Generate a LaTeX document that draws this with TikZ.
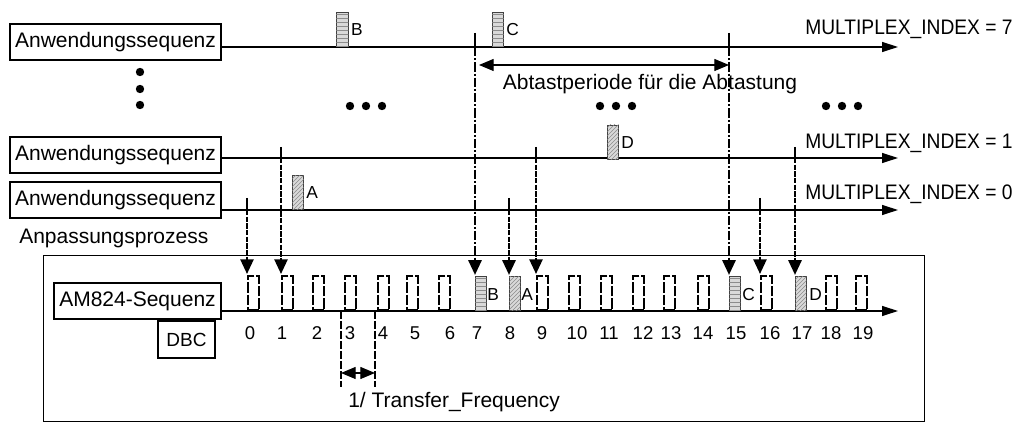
\documentclass[tikz,border=0pt]{standalone}
\usepackage{fontspec}
\setmainfont{Liberation Sans}
\newfontfamily\mpfont[FakeStretch=0.915]{Liberation Sans}
\usetikzlibrary{arrows.meta,patterns}
\begin{document}
\begin{tikzpicture}[x=0.75pt,y=-0.75pt,
  lbl/.style={inner sep=0pt, font=\fontsize{15.75}{18}\selectfont},
  mplbl/.style={inner sep=0pt, anchor=west, font=\mpfont\fontsize{15.75}{18}\selectfont},
  letter/.style={inner sep=0pt, anchor=west, font=\fontsize{13}{15}\selectfont},
  num/.style={inner sep=0pt, font=\fontsize{13.9}{16}\selectfont},
  seqbox/.style={draw, line width=0.9pt, inner sep=0pt, minimum width=158.25pt, minimum height=27pt, font=\fontsize{15.75}{18}\selectfont},
  axisline/.style={line width=0.9pt, -{Triangle[length=12pt,width=7.5pt]}},
  slot/.style={draw, line width=1.3pt, dash pattern=on 8pt off 1.3pt, minimum width=8.25pt, minimum height=25.5pt, inner sep=0pt, anchor=south west},
  hslot/.style={draw=black!75, line width=0.6pt, fill=black!15, minimum width=8.25pt, minimum height=25.5pt, inner sep=0pt, anchor=south west, postaction={pattern=horizontal lines, pattern color=black!45}},
  dslot/.style={draw=black!75, line width=0.6pt, fill=black!15, minimum width=8.25pt, minimum height=25.5pt, inner sep=0pt, anchor=south west, postaction={pattern=north east lines, pattern color=black!45}},
  tick/.style={line width=1pt},
  vdash/.style={line width=1.2pt, dash pattern=on 4pt off 1pt, -{Triangle[length=11pt,width=10pt]}},
  vdashdot/.style={line width=1.2pt, dash pattern=on 7pt off 1.5pt on 1.5pt off 1.5pt, -{Triangle[length=11pt,width=10pt]}},
  dbl/.style={line width=0.9pt, {Triangle[length=11pt,width=9pt]}-{Triangle[length=11pt,width=9pt]}},
  guide/.style={line width=1pt, dash pattern=on 6pt off 1.5pt}
]
\useasboundingbox (0,0) rectangle (1022,423);

% application sequences
\node[seqbox] (r7) at (115.5,42) {Anwendungssequenz};
\node[seqbox] (r1) at (115.5,155) {Anwendungssequenz};
\node[seqbox] (r0) at (115.5,200) {Anwendungssequenz};
\coordinate (y7) at (0,47);
\coordinate (y1) at (0,158);
\coordinate (y0) at (0,210);
\coordinate (e7) at (898,47);
\coordinate (e1) at (898,158);
\coordinate (e0) at (898,210);
\draw[axisline] (r7.east |- y7) -- (e7);
\draw[axisline] (r1.east |- y1) -- (e1);
\draw[axisline] (r0.east |- y0) -- (e0);
\node[mplbl] (m7) at (805,29) {MULTIPLEX\_INDEX = 7};
\node[mplbl] (m1) at (805,143) {MULTIPLEX\_INDEX = 1};
\node[mplbl] (m0) at (805,194) {MULTIPLEX\_INDEX = 0};

% data blocks on the sequences
\node[hslot, minimum width=9pt] (bB) at (336,47) {};
\node[letter] (lB) at ([xshift=1.5pt]bB.east) {B};
\node[hslot, minimum width=8.5pt] (bC) at (492,47) {};
\node[letter] (lC) at ([xshift=1.5pt]bC.east) {C};
\node[dslot, minimum width=8.5pt, minimum height=26pt] (bD) at (607,160) {};
\node[letter] (lD) at ([xshift=1.5pt]bD.east) {D};
\node[dslot, minimum width=8.5pt] (bA) at (292,210) {};
\node[letter] (lA) at ([xshift=1.5pt]bA.east) {A};

% ellipsis dots
\fill (140,72) circle (4.2);
\fill (140,89) circle (4.2);
\fill (140,105) circle (4.2);
\foreach \x in {350,366,382,600,616,632,826,842,858}
  \fill (\x,106) circle (4.2);

\node[lbl, anchor=west] (anp) at (19,238) {Anpassungsprozess};

% frame
\node[draw, line width=0.9pt, anchor=north west, minimum width=660.75pt, minimum height=124.5pt, inner sep=0pt] (frame) at (43,255) {};

% AM824 sequence
\node[seqbox, minimum width=125.25pt] (am) at (137.5,301) {AM824-Sequenz};
\node[seqbox, minimum width=42.75pt, minimum height=27.75pt, font=\fontsize{14.25}{16}\selectfont] (dbc) at (186.5,339.5) {DBC};
\coordinate (ya) at (0,311);
\coordinate (ea) at (898,311);
\draw[axisline] (am.east |- ya) -- (ea);

% slots
\foreach \i/\x in {0/247,1/281,2/312,3/344,4/377,5/406,6/438,9/536,10/568,11/600,12/632,13/663,14/697,16/760,18/825,19/855}
  \node[slot] (s\i) at (\x,311) {};
\node[hslot] (s7) at (475,311) {};
\node[dslot] (s8) at (509,311) {};
\node[hslot] (s15) at (729,311) {};
\node[dslot] (s17) at (795,311) {};
\node[letter] (sB) at (487,295) {B};
\node[letter] (sA) at (521,295) {A};
\node[letter] (sC) at (742,295) {C};
\node[letter] (sD) at (809,295) {D};

% slot numbers
\foreach \i/\x in {0/250,1/282,2/317,3/350,4/383,5/415,6/450,7/477,8/510,9/542,10/577,11/609,12/643,13/671,14/703,15/736,16/770,17/802,18/831,19/863}
  \node[num] (n\i) at (\x,333) {\i};

% mapping arrows
\coordinate (t0) at (0,198);
\coordinate (t1) at (0,147);
\coordinate (t7) at (0,33);
\foreach \s/\t/\r in {0/t0/y0,1/t1/y1,8/t0/y0,9/t1/y1,16/t0/y0,17/t1/y1} {
  \draw[tick] (s\s.north west |- \t) -- (s\s.north west |- \r);
  \draw[vdash] (s\s.north west |- \r) -- ([yshift=1pt]s\s.north west);
}
\foreach \s in {7,15} {
  \draw[tick] (s\s.north west |- t7) -- (s\s.north west |- y7);
  \draw[vdashdot] (s\s.north west |- y7) -- ([yshift=1pt]s\s.north west);
}

% sampling period
\coordinate (ab1) at (479,65);
\coordinate (ab2) at (729,65);
\draw[dbl] (ab1) -- (ab2);
\node[lbl] (abt) at (650,84) {Abtastperiode für die Abtastung};

% transfer period
\coordinate (tf1a) at (341,311);
\coordinate (tf1b) at (341,387);
\coordinate (tf2a) at (375,311);
\coordinate (tf2b) at (375,387);
\draw[guide] (tf1a) -- (tf1b);
\draw[guide] (tf2a) -- (tf2b);
\coordinate (tfl) at (341,373);
\coordinate (tfr) at (375,373);
\draw[dbl] (tfl) -- (tfr);
\node[lbl, anchor=west] (tft) at (348,402) {1/ Transfer\_Frequency};
\end{tikzpicture}
\end{document}
